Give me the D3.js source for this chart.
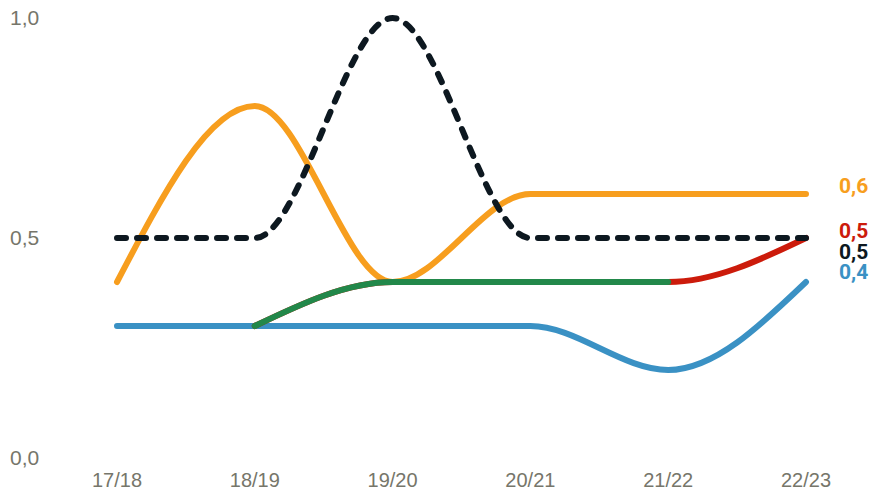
<!DOCTYPE html>
<html>
<head>
<meta charset="utf-8">
<script src="https://cdn.jsdelivr.net/npm/d3@7"></script>
<style>
  body { margin: 0; background: #fff; }
  svg { display: block; }
</style>
</head>
<body>
<div id="container"></div>
<script>
/* DATA */
const seasons = ["17/18", "18/19", "19/20", "20/21", "21/22", "22/23"];
const orangeValues = [0.4, 0.8, 0.4, 0.6, 0.6, 0.6];
const blackValues = [0.5, 0.5, 1.0, 0.5, 0.5, 0.5];
const blueValues = [0.3, 0.3, 0.3, 0.3, 0.2, 0.4];
const greenValues = [null, 0.3, 0.4, 0.4, 0.4, null];
// red is the last stretch of the green series, drawn in full and covered by green
const redValues = [null, 0.3, 0.4, 0.4, 0.4, 0.5];
const yTicks = [0, 0.5, 1];
const endLabels = [
  { text: "0,6", color: "#f79e1e", dy: -52 },
  { text: "0,5", color: "#cc1b0b", dy: -7 },
  { text: "0,5", color: "#0d1820", dy: 14 },
  { text: "0,4", color: "#3a91c4", dy: 34 }
];

/* CONSTANTS */
const width = 874, height = 492;
const margin = { top: 18, bottom: 34, left: 117, right: 68 };

const svg = d3.select("#container")
  .append("svg")
  .attr("width", width)
  .attr("height", height);

// SCALES
const xScale = d3.scalePoint()
  .domain(seasons)
  .range([margin.left, width - margin.right]);

const yScale = d3.scaleLinear()
  .domain([0, 1])
  .range([height - margin.bottom, margin.top]);

// AXIS LABELS
svg.append("g")
  .selectAll("text")
  .data(yTicks)
  .join("text")
  .attr("x", 10)
  .attr("y", d => yScale(d))
  .attr("dy", "0.35em")
  .attr("fill", "#76766a")
  .style("font-family", "'Liberation Sans', Arial, sans-serif")
  .style("font-size", "21px")
  .text(d => d3.format(".1f")(d).replace(".", ","));

svg.append("g")
  .selectAll("text")
  .data(seasons)
  .join("text")
  .attr("x", d => xScale(d))
  .attr("y", 480)
  .attr("dy", "0.35em")
  .attr("text-anchor", "middle")
  .attr("fill", "#76766a")
  .style("font-family", "'Liberation Sans', Arial, sans-serif")
  .style("font-size", "20px")
  .text(d => d);

// LINE GENERATOR
const line = d3.line()
  .x(d => xScale(d.s))
  .y(d => yScale(d.v))
  .curve(d3.curveMonotoneX);

const toPoints = vals => seasons.map((s, i) => ({ s, v: vals[i] })).filter(d => d.v != null);

const series = [
  { vals: blueValues, color: "#3a91c4" },
  { vals: orangeValues, color: "#f79e1e" },
  { vals: redValues, color: "#cc1b0b" },
  { vals: greenValues, color: "#22884a" },
  { vals: blackValues, color: "#0d1820", dash: "9,11" }
];

series.forEach(sr => {
  svg.append("path")
    .datum(toPoints(sr.vals))
    .attr("d", line)
    .attr("fill", "none")
    .attr("stroke", sr.color)
    .attr("stroke-width", 6)
    .attr("stroke-linecap", "round")
    .attr("stroke-linejoin", "round")
    .attr("stroke-dasharray", sr.dash || null);
});

// END LABELS
const baseY = yScale(0.5);
svg.append("g")
  .selectAll("text")
  .data(endLabels)
  .join("text")
  .attr("x", 839)
  .attr("y", d => baseY + d.dy)
  .attr("dy", "0.35em")
  .attr("fill", d => d.color)
  .style("font-family", "Roboto, sans-serif")
  .style("font-weight", "bold")
  .style("font-size", "21px")
  .text(d => d.text);
</script>
</body>
</html>
